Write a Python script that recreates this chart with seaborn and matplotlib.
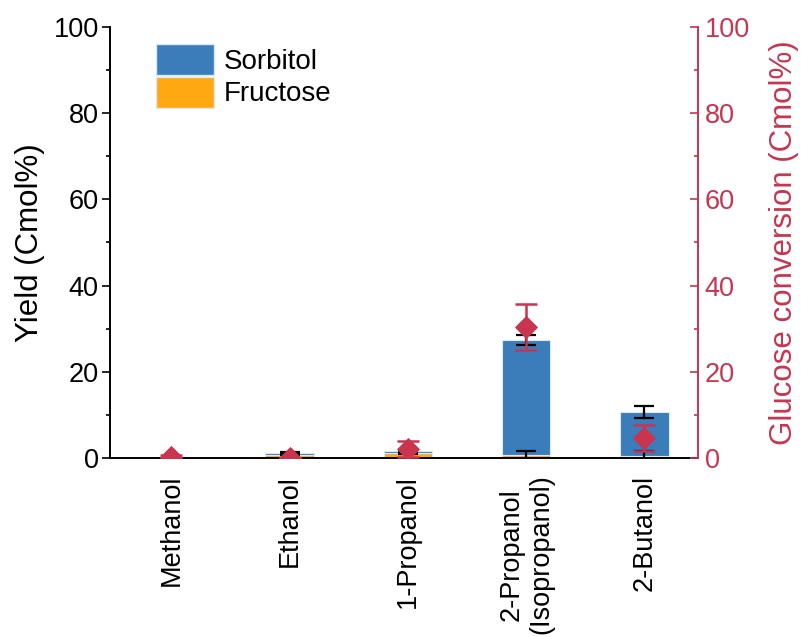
import matplotlib
matplotlib.use('Agg')
import matplotlib.pyplot as plt
import seaborn as sns
from matplotlib.patches import Patch
from matplotlib.ticker import MultipleLocator

solvents = ['Methanol', 'Ethanol', '1-Propanol', '2-Propanol\n(Isopropanol)', '2-Butanol']
fructose = [0.0, 0.7, 1.1, 0.6, 0.5]
fructose_err = [0.0, 0.1, 0.2, 1.0, 1.1]
sorbitol = [0.0, 0.4, 0.5, 26.8, 10.2]
sorbitol_err = [0.0, 0.2, 0.2, 1.2, 1.4]
conversion = [0.3, 0.0, 2.1, 30.4, 4.7]
conversion_err = [0.3, 0.1, 1.8, 5.4, 3.0]

blue = '#3A7DBA'
orange = '#FFA812'
red = '#C9344F'

sns.set_style('ticks')
plt.rcParams['font.family'] = ['Liberation Sans', 'DejaVu Sans']
plt.rcParams['text.color'] = 'black'
plt.rcParams['axes.labelcolor'] = 'black'
plt.rcParams['xtick.color'] = 'black'
plt.rcParams['ytick.color'] = 'black'

fig = plt.figure(figsize=(8.01, 6.37), dpi=100)
ax = fig.add_axes([0.137, 0.281, 0.734, 0.677])

pos = list(range(len(solvents)))
totals = [f + s for f, s in zip(fructose, sorbitol)]

sns.barplot(x=solvents, y=fructose, color=orange, width=0.41, saturation=1,
            edgecolor='#dbe8f5', linewidth=0.8, ax=ax, zorder=2)
sns.barplot(x=solvents, y=sorbitol, bottom=fructose, color=blue, width=0.41,
            saturation=1, edgecolor='#dbe8f5', linewidth=0.8, ax=ax, zorder=2)

ax.errorbar(pos, totals, yerr=sorbitol_err, fmt='none', ecolor='black',
            elinewidth=1.6, capsize=7, capthick=1.6, zorder=3)
ax.errorbar(pos, fructose, yerr=fructose_err, fmt='none', ecolor='black',
            elinewidth=1.6, capsize=7, capthick=1.6, zorder=3)

# glucose conversion shares the 0-100 scale of the right axis
ax.errorbar(pos, conversion, yerr=conversion_err, fmt='none', ecolor=red,
            elinewidth=1.8, capsize=8, capthick=1.8, zorder=4)
sns.scatterplot(x=pos, y=conversion, marker='D', s=120, color=red,
                edgecolor=red, ax=ax, zorder=5)

ax.set_xlim(-0.52, 4.45)
ax.set_ylim(0, 100)
ax.yaxis.set_major_locator(MultipleLocator(20))
ax.yaxis.set_minor_locator(MultipleLocator(10))
ax.set_ylabel('Yield (Cmol%)', fontsize=22.5, labelpad=6)
ax.set_xlabel('')
ax.tick_params(axis='y', which='major', labelsize=19.5, length=6, width=1.2,
               direction='out', pad=2)
ax.tick_params(axis='y', which='minor', length=3, width=1.2, direction='out')
ax.tick_params(axis='x', length=0, labelsize=19.5, rotation=90, pad=12)
for lab in ax.get_xticklabels():
    lab.set_horizontalalignment('center')
    lab.set_multialignment('center')
for s in ['left', 'bottom']:
    ax.spines[s].set_linewidth(1.4)
    ax.spines[s].set_color('black')
ax.spines['top'].set_visible(False)
ax.spines['right'].set_visible(False)

ax2 = ax.twinx()
ax2.set_ylim(0, 100)
ax2.yaxis.set_major_locator(MultipleLocator(20))
ax2.yaxis.set_minor_locator(MultipleLocator(10))
ax2.set_ylabel('Glucose conversion (Cmol%)', fontsize=22.5, color=red, labelpad=14)
ax2.tick_params(axis='y', which='major', labelsize=19.5, length=6, width=1.2,
                direction='in', colors=red, pad=5)
ax2.tick_params(axis='y', which='minor', length=3, width=1.2, direction='in', colors=red)
ax2.spines['right'].set_color(red)
ax2.spines['right'].set_linewidth(1.4)
for s in ['top', 'left', 'bottom']:
    ax2.spines[s].set_visible(False)

handles = [Patch(facecolor=blue, edgecolor='#dbe8f5', label='Sorbitol'),
           Patch(facecolor=orange, edgecolor='#dbe8f5', label='Fructose')]
ax.legend(handles=handles, loc='upper left', bbox_to_anchor=(0.078, 0.96),
          frameon=False, fontsize=20, handlelength=2.1, handleheight=1.35,
          handletextpad=0.35, labelspacing=0.05, borderaxespad=0, borderpad=0)

fig.savefig('out.png', dpi=100)
